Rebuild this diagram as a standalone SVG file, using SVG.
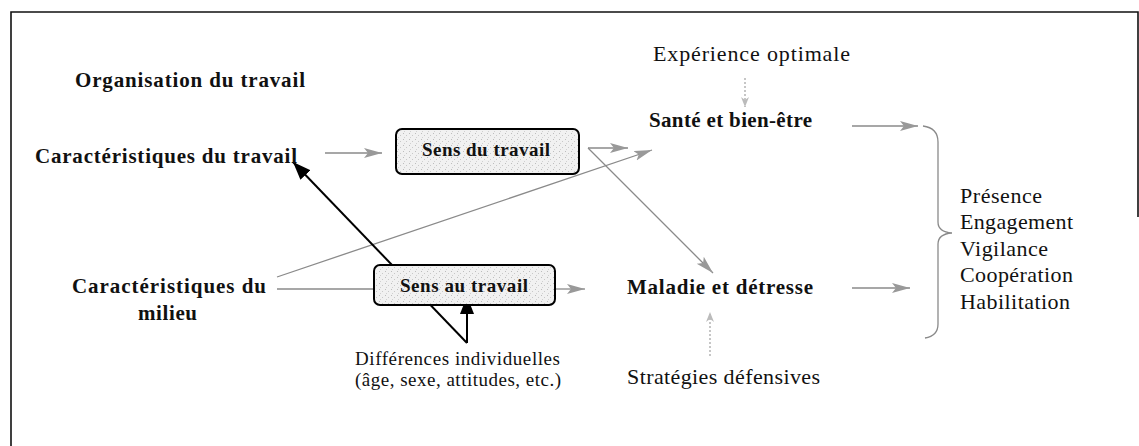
<svg xmlns="http://www.w3.org/2000/svg" width="1139" height="446" viewBox="0 0 1139 446">
  <defs>
    <style>
      .b { font-family: "Liberation Serif", "Times New Roman", serif; font-weight: bold; fill: #111; }
      .r { font-family: "Liberation Serif", "Times New Roman", serif; fill: #111; }
      .g { stroke: #8a8a8a; stroke-width: 1.3; fill: none; }
      .d { stroke: #a8a8a8; stroke-width: 1.3; fill: none; stroke-dasharray: 2 2; }
      .k { stroke: #000; stroke-width: 2; fill: none; }
      .box { fill: url(#stip); stroke: #000; stroke-width: 2; }
    </style>
    <pattern id="stip" width="6" height="6" patternUnits="userSpaceOnUse">
      <rect width="6" height="6" fill="#f1f1f1"/>
      <rect x="1" y="1" width="1" height="1" fill="#bdbdbd"/>
      <rect x="4" y="3" width="1" height="1" fill="#c8c8c8"/>
      <rect x="2" y="5" width="1" height="1" fill="#d0d0d0"/>
    </pattern>
    <marker id="ag" markerUnits="userSpaceOnUse" markerWidth="20" markerHeight="12" refX="18" refY="5" orient="auto">
      <path d="M0,0 L18,5 L0,10 L4,5 Z" fill="#999"/>
    </marker>
    <marker id="ad" markerUnits="userSpaceOnUse" markerWidth="14" markerHeight="12" refX="10" refY="5" orient="auto">
      <path d="M0,1 L10,5 L0,9 L3,5 Z" fill="#bbb"/>
    </marker>
    <marker id="ak" markerUnits="userSpaceOnUse" markerWidth="20" markerHeight="16" refX="18" refY="7" orient="auto">
      <path d="M0,0 L18,7 L0,14 Z" fill="#000"/>
    </marker>
  </defs>

  <rect width="1139" height="446" fill="#fff"/>
  <path id="frame" d="M11,446 L11,12 L1138,12 L1138,217" fill="none" stroke="#111" stroke-width="1.6"/>

  <g id="connectors">
    <line class="g" x1="325" y1="153" x2="382" y2="153" marker-end="url(#ag)"/>
    <line class="g" x1="588" y1="148" x2="628" y2="148" marker-end="url(#ag)"/>
    <line class="g" x1="588" y1="148" x2="713" y2="273" marker-end="url(#ag)"/>
    <line class="g" x1="277" y1="277" x2="652" y2="150" marker-end="url(#ag)"/>
    <line class="g" x1="277" y1="289" x2="374" y2="289"/>
    <line class="g" x1="556" y1="289" x2="585" y2="289" marker-end="url(#ag)"/>
    <line class="g" x1="852" y1="126" x2="918" y2="126" marker-end="url(#ag)"/>
    <line class="g" x1="852" y1="288" x2="910" y2="288" marker-end="url(#ag)"/>
    <line class="d" x1="745" y1="78" x2="745" y2="107" marker-end="url(#ad)"/>
    <line class="d" x1="710" y1="356" x2="710" y2="312" marker-end="url(#ad)"/>
    <line class="k" x1="467" y1="343" x2="293" y2="162" marker-end="url(#ak)"/>
    <line class="k" x1="467" y1="343" x2="467" y2="296" marker-end="url(#ak)"/>
    <path class="g" stroke-width="1.1" d="M923,126 Q938,128 938,142 L938,222 Q938,232 952,233 Q938,234 938,244 L938,324 Q938,336 925,338"/>
  </g>

  <g id="organisation">
    <text class="b" x="75" y="87" font-size="21" textLength="230">Organisation du travail</text>
  </g>
  <g id="caract-travail">
    <text class="b" x="35" y="163" font-size="21" textLength="262">Caractéristiques du travail</text>
  </g>
  <g id="sens-du-travail">
    <rect class="box" x="396" y="129" width="183" height="45" rx="6"/>
    <text class="b" x="422" y="156" font-size="19" textLength="128">Sens du travail</text>
  </g>
  <g id="experience">
    <text class="r" x="653" y="61" font-size="22" textLength="197">Expérience optimale</text>
  </g>
  <g id="sante">
    <text class="b" x="649" y="127" font-size="21" textLength="163">Santé et bien-être</text>
  </g>
  <g id="caract-milieu">
    <text class="b" x="72" y="293" font-size="21" textLength="194">Caractéristiques du</text>
    <text class="b" x="138" y="320" font-size="21" textLength="59">milieu</text>
  </g>
  <g id="sens-au-travail">
    <rect class="box" x="374" y="265" width="181" height="40" rx="6"/>
    <text class="b" x="400" y="292" font-size="19" textLength="128">Sens au travail</text>
  </g>
  <g id="maladie">
    <text class="b" x="627" y="294" font-size="21" textLength="186">Maladie et détresse</text>
  </g>
  <g id="strategies">
    <text class="r" x="627" y="384" font-size="22" textLength="193">Stratégies défensives</text>
  </g>
  <g id="differences">
    <text class="r" x="355" y="365" font-size="19" textLength="205">Différences individuelles</text>
    <text class="r" x="355" y="386" font-size="19" textLength="206">(âge, sexe, attitudes, etc.)</text>
  </g>
  <g id="resultats">
    <text class="r" x="960" y="203" font-size="22" textLength="82">Présence</text>
    <text class="r" x="960" y="229" font-size="22" textLength="113">Engagement</text>
    <text class="r" x="960" y="256" font-size="22" textLength="88">Vigilance</text>
    <text class="r" x="960" y="282" font-size="22" textLength="113">Coopération</text>
    <text class="r" x="960" y="309" font-size="22" textLength="110">Habilitation</text>
  </g>
</svg>
